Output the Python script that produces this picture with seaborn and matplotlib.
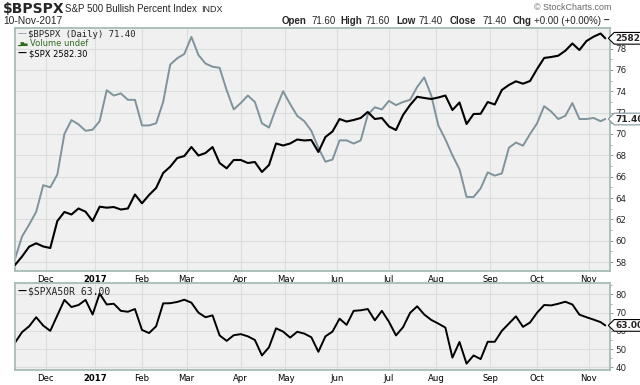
import matplotlib
matplotlib.use("Agg")
import matplotlib.pyplot as plt
import matplotlib.ticker as mticker
from matplotlib.path import Path
import pandas as pd
import seaborn as sns

# NYSE sessions 11-Nov-2016 .. 10-Nov-2017; values every 3rd session (+ last close)
holidays = ["2016-11-24", "2016-12-26", "2017-01-02", "2017-01-16", "2017-02-20",
            "2017-04-14", "2017-05-29", "2017-07-04", "2017-09-04"]
sessions = pd.bdate_range("2016-11-11", "2017-11-10", freq="C", holidays=holidays)
picked = list(range(0, len(sessions), 3)) + [len(sessions) - 1]

bpspx = [58.3, 60.4, 61.5, 62.7, 65.2, 65.0, 66.2, 70.0, 71.3, 70.9,
         70.3, 70.4, 71.2, 74.1, 73.6, 73.8, 73.2, 73.2, 70.8, 70.8,
         71.0, 73.0, 76.5, 77.1, 77.5, 79.1, 77.4, 76.6, 76.3, 76.2,
         74.1, 72.3, 72.9, 73.6, 73.0, 71.0, 70.6, 72.4, 74.0, 72.8,
         71.7, 71.2, 70.3, 68.7, 67.4, 67.6, 69.4, 69.4, 69.1, 69.4,
         71.8, 72.5, 72.3, 73.1, 72.7, 73.0, 73.2, 74.4, 75.3, 73.6,
         70.8, 69.5, 68.0, 66.7, 64.1, 64.1, 64.9, 66.4, 66.1, 66.3,
         68.7, 69.2, 68.9, 70.0, 71.0, 72.6, 72.1, 71.4, 71.7, 72.9,
         71.4, 71.4, 71.5, 71.2, 71.4]

spx = [2166.3, 2181.9, 2199.9, 2206.1, 2200.3, 2197.5, 2247.0, 2263.6, 2259.0, 2270.0,
       2264.1, 2247.0, 2273.3, 2271.5, 2272.7, 2268.1, 2270.0, 2295.7, 2279.5, 2294.8,
       2307.6, 2335.1, 2346.7, 2362.6, 2366.3, 2382.8, 2367.2, 2371.8, 2382.8, 2353.5,
       2343.7, 2359.0, 2359.0, 2353.5, 2355.3, 2337.0, 2349.8, 2389.3, 2385.6, 2389.3,
       2396.6, 2394.8, 2395.7, 2373.7, 2401.2, 2411.3, 2434.2, 2429.6, 2432.4, 2436.1,
       2447.1, 2434.2, 2436.0, 2420.5, 2414.0, 2441.6, 2459.9, 2475.0, 2472.8, 2470.9,
       2473.7, 2477.3, 2450.7, 2464.5, 2425.0, 2443.4, 2443.8, 2465.4, 2460.8, 2487.4,
       2496.6, 2503.4, 2499.0, 2503.9, 2526.0, 2546.2, 2548.0, 2550.4, 2559.5, 2572.8,
       2560.8, 2577.3, 2585.2, 2591.1, 2582.3]

spxa50r = [53.5, 59.3, 62.5, 67.5, 62.9, 60.0, 68.5, 77.0, 73.1, 74.2,
           77.0, 69.0, 80.5, 74.5, 74.9, 71.0, 70.5, 72.0, 60.5, 58.8,
           62.5, 75.1, 75.2, 75.9, 77.1, 75.5, 70.0, 67.5, 68.5, 57.5,
           54.5, 57.6, 58.2, 57.0, 55.0, 46.5, 51.0, 61.4, 59.6, 56.3,
           59.5, 58.5, 56.5, 48.5, 57.0, 59.6, 66.7, 63.3, 71.0, 71.3,
           72.0, 65.8, 71.0, 65.0, 57.5, 62.0, 69.9, 73.5, 69.0, 66.0,
           64.0, 61.8, 45.3, 53.9, 42.0, 46.5, 44.5, 54.0, 54.0, 60.0,
           64.0, 68.0, 62.2, 64.6, 70.0, 74.2, 74.0, 74.9, 76.0, 74.5,
           68.9, 67.5, 66.2, 64.8, 63.0]

month_labels = ["Dec", "2017", "Feb", "Mar", "Apr", "May", "Jun",
                "Jul", "Aug", "Sep", "Oct", "Nov"]

df = pd.DataFrame({"session": picked, "date": sessions[picked],
                   "bpspx": bpspx, "spx": spx, "spxa50r": spxa50r})
month_starts = [i for i in range(1, len(sessions))
                if sessions[i].month != sessions[i - 1].month]

GREY = "#7f939b"
FACE = "#f0f0f0"
EDGE = "#a7bcb4"
GRID = "#dcdede"
ARIAL = "Liberation Sans"

sns.set_style("white", rc={"axes.facecolor": FACE, "axes.edgecolor": EDGE})
plt.rcParams["font.family"] = ["DejaVu Sans"]

W, H = 640, 385
fig = plt.figure(figsize=(6.4, 3.85), dpi=100)
fig.patch.set_facecolor("white")


def box(x0, y0, x1, y1):
    return [x0 / W, 1 - y1 / H, (x1 - x0) / W, (y1 - y0) / H]


def tag_shape(x0, y0, width, height, mutation_size):
    # price tag: rectangle with a pointed left side
    pad = 0.15 * mutation_size
    x0, y0 = x0 - pad, y0 - pad
    x1, y1 = x0 + width + 2 * pad, y0 + height + 2 * pad
    h = (y1 - y0) / 2
    return Path([(x0, y0), (x1, y0), (x1, y1), (x0, y1), (x0 - h, y0 + h), (x0, y0)],
                closed=True)


ax = fig.add_axes(box(15, 28, 610, 271))
axs = ax.twinx()
axb = fig.add_axes(box(15, 283, 610, 370))

sns.lineplot(data=df, x="session", y="bpspx", ax=ax, color=GREY, lw=1.4, legend=False)
sns.lineplot(data=df, x="session", y="spx", ax=axs, color="black", lw=1.5, legend=False)
sns.lineplot(data=df, x="session", y="spxa50r", ax=axb, color="black", lw=1.4, legend=False)

ax.set_ylim(57.16, 79.93)
axs.set_ylim(2155.3, 2601.2)
axb.set_ylim(38.5, 86.3)

for a in (ax, axb):
    a.set_xlim(0, 253)
    a.set_xticks(month_starts)
    a.set_xticklabels(month_labels)
    for lab in a.get_xticklabels():
        if lab.get_text() == "2017":
            lab.set_fontweight("bold")
    a.tick_params(axis="x", length=0, pad=3, labelsize=6.1, colors="black")
    a.yaxis.tick_right()
    a.tick_params(axis="y", which="major", direction="out", length=2.5, width=0.6,
                  color="#888888", pad=1.5, labelsize=6.3)
    a.tick_params(axis="y", which="minor", direction="out", length=1.3, width=0.5,
                  color="#888888")
    a.grid(True, which="major", color=GRID, lw=0.8)
    a.set_axisbelow(True)
    a.set_xlabel("")
    a.set_ylabel("")
    for s in a.spines.values():
        s.set_color(EDGE)
        s.set_linewidth(1.3)

ax.yaxis.set_major_locator(mticker.MultipleLocator(2))
ax.yaxis.set_minor_locator(mticker.MultipleLocator(1))
axb.yaxis.set_major_locator(mticker.MultipleLocator(10))
axb.yaxis.set_minor_locator(mticker.MultipleLocator(5))

axs.set_yticks([])
axs.set_ylabel("")
axs.grid(False)
for s in axs.spines.values():
    s.set_visible(False)

# last-value tags on the right edge
for a, val, txt, ec in [(axs, spx[-1], "2582.3", "black"),
                        (ax, bpspx[-1], "71.40", GREY),
                        (axb, spxa50r[-1], "63.00", "black")]:
    a.annotate(txt, xy=(1, val), xycoords=a.get_yaxis_transform(),
               textcoords="offset points", xytext=(4, 0), ha="left", va="center",
               fontsize=6.5, fontweight="bold", annotation_clip=False, zorder=10,
               bbox=dict(boxstyle=tag_shape, fc="white", ec=ec, lw=0.8))

# in-panel legends
ax.text(0.004, 0.975, "\u2014", transform=ax.transAxes, color=GREY, fontsize=6.5,
        va="center", ha="left")
ax.text(0.022, 0.975, r"\$BPSPX (Daily) 71.40", transform=ax.transAxes,
        family="DejaVu Sans Mono", fontsize=6.5, va="center", ha="left")
ax.text(0.003, 0.935, "\u2582\u2586\u2584", transform=ax.transAxes, color="#2e6b1e",
        fontsize=3.3, va="center", ha="left")
ax.text(0.025, 0.935, "Volume undef", transform=ax.transAxes, color="#2e6b1e",
        fontsize=6, va="center", ha="left")
ax.text(0.004, 0.895, "\u2014", transform=ax.transAxes, color="black", fontsize=6.5,
        va="center", ha="left", fontweight="bold")
ax.text(0.024, 0.895, r"\$SPX 2582.30", transform=ax.transAxes, color="black",
        fontsize=6, va="center", ha="left")
axb.text(0.004, 0.9, "\u2014", transform=axb.transAxes, color="black", fontsize=6.5,
         va="center", ha="left", fontweight="bold")
axb.text(0.022, 0.9, r"\$SPXA50R 63.00", transform=axb.transAxes,
         family="DejaVu Sans Mono", fontsize=7, va="center", ha="left")

# header
fig.text(3 / W, 1 - 9 / H, r"\$BPSPX", fontsize=10, fontweight="bold", va="center")
fig.text(65 / W, 1 - 9 / H, "S&P 500 Bullish Percent Index", family=ARIAL,
         fontsize=7, va="center")
fig.text(201 / W, 1 - 9 / H, "INDX", family=ARIAL, fontsize=6.5, va="center")
fig.text(3 / W, 1 - 21 / H, "10-Nov-2017", family=ARIAL, fontsize=7.4, va="center")
fig.text(611 / W, 1 - 8 / H, "\u00a9 StockCharts.com", family=ARIAL, fontsize=6.4,
         color="#666666", va="center", ha="right")

quote = [(282, "Open", True), (311, "71.60", False), (340, "High", True),
         (365, "71.60", False), (396, "Low", True), (418, "71.40", False),
         (450, "Close", True), (482, "71.40", False), (513, "Chg", True),
         (534, "+0.00 (+0.00%)", False)]
for px, txt, bold in quote:
    fig.text(px / W, 1 - 21 / H, txt, family=ARIAL, fontsize=7, va="center",
             fontweight="bold" if bold else "normal")
fig.text(609 / W, 1 - 21 / H, "\u2013", family=ARIAL, fontsize=7.2, va="center",
         ha="right", fontweight="bold")

fig.savefig("out.png", dpi=100, facecolor="white")
